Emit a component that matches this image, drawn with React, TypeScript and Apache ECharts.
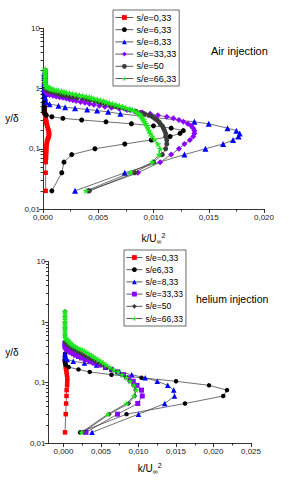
import React, { useEffect, useRef } from "react";
import * as echarts from "echarts";

type P = [number, number];

// ---------- Air injection (top) ----------
const airNames = ["s/e=0,33", "s/e=6,33", "s/e=8,33", "s/e=33,33", "s/e=50", "s/e=66,33"];

const airS033: P[] = [
  [0.00024, 0.02], [0.00024, 0.04], [0.00025, 0.06], [0.00027, 0.07], [0.00028, 0.08], [0.0003, 0.09],
  [0.0003, 0.1], [0.00031, 0.11], [0.00033, 0.12], [0.00036, 0.13], [0.0004, 0.14], [0.00046, 0.15],
  [0.00052, 0.16], [0.00055, 0.17], [0.00055, 0.18], [0.00053, 0.19], [0.0005, 0.2], [0.00044, 0.22],
  [0.00038, 0.24], [0.00033, 0.26], [0.0003, 0.28], [0.00027, 0.3], [0.00024, 0.32], [0.00022, 0.34],
  [0.0002, 0.36], [0.00018, 0.38], [0.00016, 0.4], [0.00015, 0.45], [0.00014, 0.5],
];

const airS633: P[] = [
  [0.0008, 0.02], [0.0017, 0.04], [0.0019, 0.06], [0.0026, 0.08], [0.0047, 0.1], [0.0074, 0.12],
  [0.0098, 0.14], [0.0115, 0.16], [0.0124, 0.18], [0.0127, 0.2], [0.0116, 0.22], [0.01, 0.24],
  [0.008, 0.26], [0.0057, 0.28], [0.0035, 0.3], [0.0018, 0.32], [0.0008, 0.34], [0.0003, 0.36],
  [0.0002, 0.38], [0.0001, 0.4], [0.0001, 0.42], [0.0001, 0.44], [0.0001, 0.46], [0.0001, 0.48],
  [0.0001, 0.5], [0.0001, 0.55], [0.0001, 0.6], [0.0001, 0.7], [0.0001, 0.8], [0.0001, 1.0],
  [0.0001, 1.2], [0.0001, 1.5],
];

const airS833: P[] = [
  [0.0029, 0.02], [0.0074, 0.04], [0.0128, 0.08], [0.0147, 0.1], [0.0163, 0.12], [0.0172, 0.14],
  [0.0177, 0.16], [0.0178, 0.18], [0.0175, 0.2], [0.0167, 0.22], [0.015, 0.26], [0.0137, 0.28],
  [0.007, 0.38], [0.0059, 0.41], [0.0049, 0.43], [0.004, 0.45], [0.0029, 0.47], [0.002, 0.49],
  [0.0014, 0.52], [0.0006, 0.55], [0.0003, 0.6], [0.0002, 0.7], [0.0002, 0.8], [0.0001, 0.9],
  [0.0001, 1.0], [0.0001, 1.2], [0.0001, 1.5], [0.0001, 1.8],
];

const airS3333: P[] = [
  [0.0041, 0.02], [0.0086, 0.04], [0.0106, 0.06], [0.0116, 0.08], [0.0123, 0.1], [0.0128, 0.12],
  [0.0133, 0.14], [0.0136, 0.16], [0.0137, 0.18], [0.0137, 0.2], [0.0136, 0.22], [0.0134, 0.24],
  [0.0131, 0.26], [0.0127, 0.28], [0.0123, 0.3], [0.0118, 0.32], [0.0112, 0.34], [0.0104, 0.36],
  [0.0097, 0.38], [0.009, 0.4], [0.0083, 0.42], [0.0076, 0.44], [0.0069, 0.46], [0.0062, 0.48],
  [0.0056, 0.5], [0.0051, 0.52], [0.0046, 0.54], [0.0042, 0.56], [0.0038, 0.58], [0.0034, 0.6],
  [0.003, 0.62], [0.0027, 0.64], [0.0024, 0.66], [0.0021, 0.68], [0.0018, 0.7], [0.0015, 0.72],
  [0.0012, 0.74], [0.0009, 0.76], [0.0006, 0.78], [0.0004, 0.8], [0.0003, 0.85], [0.0002, 0.9],
  [0.0002, 1.0], [0.0002, 1.2], [0.0002, 1.5], [0.0002, 1.8],
];

const airS50: P[] = [
  [0.0042, 0.02], [0.0083, 0.04], [0.01, 0.06], [0.0108, 0.08], [0.0111, 0.1], [0.0112, 0.12],
  [0.0112, 0.14], [0.0111, 0.16], [0.0111, 0.18], [0.011, 0.2], [0.0109, 0.22], [0.0108, 0.24],
  [0.0106, 0.26], [0.0105, 0.28], [0.0103, 0.3], [0.0101, 0.32], [0.0099, 0.34], [0.0096, 0.36],
  [0.0092, 0.38], [0.0088, 0.4], [0.0084, 0.42], [0.0079, 0.44], [0.0074, 0.46], [0.007, 0.48],
  [0.0066, 0.5], [0.0063, 0.52], [0.006, 0.54], [0.0056, 0.56], [0.0053, 0.58], [0.005, 0.6],
  [0.0047, 0.62], [0.0043, 0.64], [0.004, 0.66], [0.0036, 0.68], [0.0031, 0.7], [0.0027, 0.72],
  [0.0024, 0.74], [0.0021, 0.76], [0.0018, 0.78], [0.0016, 0.8], [0.0014, 0.82], [0.0012, 0.84],
  [0.001, 0.86], [0.0008, 0.88], [0.0006, 0.9], [0.0005, 0.92], [0.0004, 0.94], [0.0003, 0.96],
  [0.0002, 1.0], [0.0002, 1.1], [0.0002, 1.2], [0.0002, 1.3], [0.0002, 1.4], [0.0002, 1.5],
  [0.0002, 1.6], [0.0002, 1.7], [0.0002, 1.8], [0.0002, 1.9], [0.0002, 2.0],
];

const airS6633: P[] = [
  [0.0039, 0.02], [0.0079, 0.04], [0.0099, 0.06], [0.0105, 0.08], [0.0106, 0.1], [0.0104, 0.12],
  [0.0101, 0.14], [0.0099, 0.16], [0.0097, 0.18], [0.0096, 0.2], [0.0095, 0.22], [0.0094, 0.24],
  [0.0093, 0.26], [0.0092, 0.28], [0.0091, 0.3], [0.009, 0.32], [0.0089, 0.34], [0.0088, 0.36],
  [0.0087, 0.38], [0.0085, 0.4], [0.0083, 0.42], [0.0081, 0.44], [0.0078, 0.46], [0.0075, 0.48],
  [0.0072, 0.5], [0.0069, 0.52], [0.0066, 0.54], [0.0063, 0.56], [0.006, 0.58], [0.0057, 0.6],
  [0.0055, 0.62], [0.0052, 0.64], [0.0049, 0.66], [0.0046, 0.68], [0.0044, 0.7], [0.0042, 0.72],
  [0.0039, 0.74], [0.0036, 0.76], [0.0033, 0.78], [0.003, 0.8], [0.0027, 0.82], [0.0024, 0.84],
  [0.0021, 0.86], [0.0019, 0.88], [0.0017, 0.9], [0.0014, 0.92], [0.0012, 0.94], [0.001, 0.96],
  [0.0008, 0.98], [0.0007, 1.0], [0.0006, 1.02], [0.0005, 1.04], [0.0004, 1.06], [0.0003, 1.08],
  [0.0003, 1.1], [0.0002, 1.2], [0.0002, 1.3], [0.0002, 1.4], [0.0002, 1.5], [0.0002, 1.6],
  [0.0002, 1.7], [0.0002, 1.8], [0.0002, 1.9], [0.0002, 2.0], [0.0002, 2.1],
];

// ---------- Helium injection (bottom) ----------
const heliumNames = ["s/e=0,33", "s/e6,33", "s/e=8,33", "s/e=33,33", "s/e=50", "s/e=66,33"];

const heS033: P[] = [
  [0.0002, 0.015], [0.0003, 0.03], [0.00035, 0.045], [0.0004, 0.06], [0.00042, 0.075], [0.00048, 0.09],
  [0.0005, 0.105], [0.0005, 0.12], [0.00045, 0.135], [0.0004, 0.15], [0.00035, 0.165], [0.0003, 0.18],
  [0.0003, 0.195], [0.00025, 0.21], [0.0002, 0.225], [0.0002, 0.24],
];

const heS633: P[] = [
  [0.0022, 0.015], [0.0084, 0.03], [0.0162, 0.045], [0.0213, 0.06], [0.0218, 0.075], [0.0194, 0.09],
  [0.015, 0.105], [0.0104, 0.12], [0.0064, 0.135], [0.0035, 0.15], [0.002, 0.165], [0.0007, 0.18],
  [0.0003, 0.195], [0.0002, 0.21], [0.0002, 0.225], [0.0002, 0.24], [0.0002, 0.27], [0.0002, 0.3],
];

const heS833: P[] = [
  [0.0038, 0.015], [0.01, 0.03], [0.0135, 0.045], [0.0148, 0.06], [0.0147, 0.075], [0.0139, 0.09],
  [0.0125, 0.105], [0.0109, 0.12], [0.0091, 0.135], [0.0075, 0.15], [0.0065, 0.165], [0.0056, 0.18],
  [0.0044, 0.195], [0.0028, 0.21], [0.0013, 0.225], [0.0005, 0.24], [0.0002, 0.255], [0.0002, 0.27],
  [0.0002, 0.3],
];

const heS3333: P[] = [
  [0.003, 0.015], [0.0072, 0.03], [0.0099, 0.045], [0.0105, 0.06], [0.0104, 0.075], [0.0098, 0.09],
  [0.0093, 0.105], [0.0087, 0.12], [0.008, 0.135], [0.0072, 0.15], [0.0064, 0.165], [0.0056, 0.18],
  [0.0048, 0.195], [0.0041, 0.21], [0.0035, 0.225], [0.0029, 0.24], [0.0024, 0.255], [0.002, 0.27],
  [0.0016, 0.285], [0.0013, 0.3], [0.001, 0.315], [0.0008, 0.33], [0.0006, 0.345], [0.0004, 0.36],
  [0.0003, 0.375], [0.0002, 0.39], [0.0002, 0.42], [0.0002, 0.45],
];

const heS50: P[] = [
  [0.0026, 0.015], [0.0061, 0.03], [0.0087, 0.045], [0.0095, 0.06], [0.0096, 0.075], [0.0093, 0.09],
  [0.0088, 0.105], [0.0083, 0.12], [0.0077, 0.135], [0.0071, 0.15], [0.0064, 0.165], [0.0058, 0.18],
  [0.0052, 0.195], [0.0047, 0.21], [0.0042, 0.225], [0.0038, 0.24], [0.0034, 0.255], [0.003, 0.27],
  [0.0027, 0.285], [0.0024, 0.3], [0.0021, 0.315], [0.0018, 0.33], [0.0015, 0.345], [0.0013, 0.36],
  [0.0011, 0.375], [0.0009, 0.39], [0.0007, 0.405], [0.0005, 0.42], [0.0003, 0.45], [0.0002, 0.48],
  [0.0002, 0.6], [0.0002, 0.8], [0.0002, 1.0], [0.0002, 1.2], [0.0002, 1.5],
];

const heS6633: P[] = [
  [0.0024, 0.015], [0.0059, 0.03], [0.0084, 0.045], [0.0094, 0.06], [0.0097, 0.075], [0.0094, 0.09],
  [0.0089, 0.105], [0.0084, 0.12], [0.0078, 0.135], [0.0073, 0.15], [0.0067, 0.165], [0.0062, 0.18],
  [0.0057, 0.195], [0.0053, 0.21], [0.005, 0.225], [0.0046, 0.24], [0.0043, 0.255], [0.004, 0.27],
  [0.0037, 0.285], [0.0034, 0.3], [0.0031, 0.315], [0.0028, 0.33], [0.0025, 0.345], [0.0022, 0.36],
  [0.0019, 0.375], [0.0016, 0.39], [0.0014, 0.405], [0.0012, 0.42], [0.001, 0.435], [0.0009, 0.45],
  [0.0008, 0.465], [0.0007, 0.48], [0.0006, 0.495], [0.0005, 0.51], [0.0004, 0.525], [0.0003, 0.54],
  [0.0002, 0.555], [0.0002, 0.6], [0.0002, 0.65], [0.0002, 0.7], [0.0002, 0.75], [0.0002, 0.8],
  [0.0002, 0.85], [0.0002, 0.9], [0.0002, 0.95], [0.0002, 1.0], [0.0002, 1.1], [0.0002, 1.2],
  [0.0002, 1.3], [0.0002, 1.4], [0.0002, 1.5],
];

// ---------- ticks ----------
const yMajorTicks = [0.01, 0.1, 1, 10];
const yMinorTicks = [
  0.02, 0.03, 0.04, 0.05, 0.06, 0.07, 0.08, 0.09,
  0.2, 0.3, 0.4, 0.5, 0.6, 0.7, 0.8, 0.9,
  2, 3, 4, 5, 6, 7, 8, 9,
];
const airXMajor = [0, 0.005, 0.01, 0.015, 0.02];
const airXMinor = [0.0025, 0.0075, 0.0125, 0.0175];
const heXMajor = [0, 0.005, 0.01, 0.015, 0.02, 0.025];
const heXMinor = [0.0025, 0.0075, 0.0125, 0.0175, 0.0225];

const FONT = "'Liberation Sans', Arial, sans-serif";
const STAR = "path://M50,0 L61,35 L98,35 L68,57 L79,91 L50,70 L21,91 L32,57 L2,35 L39,35 Z";

const COLORS = ["#ff0000", "#000000", "#0000ff", "#8b00ff", "#3c3c3c", "#1ee81e"];

const yFmt = (v: number) => String(parseFloat(v.toPrecision(6))).replace(".", ",");
const xFmt = (v: number) => (Math.abs(v) < 1e-12 ? 0 : v).toFixed(3).replace(".", ",");

interface Cfg {
  names: string[];
  data: P[][];
  symbols: string[];
  sizes: number[];
  grid: { left: number; right: number; top: number; bottom: number };
  xMin: number;
  xMax: number;
  xMajor: number[];
  xMinor: number[];
  xNameGap: number;
  yNameGap: number;
  legend: { left: number; top: number; fontSize: number; itemWidth: number };
  label: { text: string; left: number; top: number; fontSize: number };
}

function buildOption(c: Cfg) {
  const axisLineStyle = { color: "#000", width: 0.8 };
  return {
    animation: false,
    grid: { ...c.grid, containLabel: false },
    legend: {
      orient: "vertical",
      left: c.legend.left,
      top: c.legend.top,
      itemWidth: c.legend.itemWidth,
      itemHeight: 6,
      itemGap: 3.2,
      padding: [3, 3, 3, 2],
      borderColor: "#444",
      borderWidth: 0.8,
      selectedMode: false,
      lineStyle: { color: "#333", width: 0.8 },
      textStyle: { fontSize: c.legend.fontSize, color: "#000", fontFamily: FONT, padding: [0, 0, 0, -2] },
      data: c.names,
    },
    graphic: [
      {
        type: "text",
        left: c.label.left,
        top: c.label.top,
        style: { text: c.label.text, fontSize: c.label.fontSize, fill: "#000", fontFamily: FONT },
      },
    ],
    xAxis: [
      {
        type: "value",
        position: "bottom",
        min: c.xMin,
        max: c.xMax,
        splitLine: { show: false },
        axisLine: { show: true, onZero: false, lineStyle: axisLineStyle },
        axisTick: { show: true, length: 4, lineStyle: axisLineStyle, customValues: c.xMajor },
        axisLabel: {
          fontSize: 8,
          color: "#222",
          fontFamily: FONT,
          margin: 4,
          formatter: xFmt,
          customValues: c.xMajor,
        },
        name: "k/U{s|∞}{p|2}",
        nameLocation: "middle",
        nameGap: c.xNameGap,
        nameTextStyle: {
          fontSize: 10,
          color: "#000",
          fontFamily: FONT,
          rich: {
            s: { fontSize: 7, fontFamily: FONT, color: "#000", padding: [6, 0, 0, 0] },
            p: { fontSize: 7, fontFamily: FONT, color: "#000", padding: [0, 0, 6, 0] },
          },
        },
      },
      {
        type: "value",
        position: "bottom",
        min: c.xMin,
        max: c.xMax,
        splitLine: { show: false },
        axisLine: { show: false, onZero: false },
        axisLabel: { show: false },
        axisTick: { show: true, length: 2.5, lineStyle: axisLineStyle, customValues: c.xMinor },
      },
    ],
    yAxis: [
      {
        type: "log",
        logBase: 10,
        position: "left",
        min: 0.01,
        max: 10,
        splitLine: { show: false },
        axisLine: { show: true, onZero: false, lineStyle: axisLineStyle },
        axisTick: { show: true, length: 4, lineStyle: axisLineStyle, customValues: yMajorTicks },
        axisLabel: {
          fontSize: 8,
          color: "#222",
          fontFamily: FONT,
          margin: 3,
          formatter: yFmt,
          customValues: yMajorTicks,
        },
        name: "y/δ",
        nameLocation: "middle",
        nameRotate: 0,
        nameGap: c.yNameGap,
        nameTextStyle: { fontSize: 10, color: "#000", fontFamily: FONT },
      },
      {
        type: "log",
        logBase: 10,
        position: "left",
        min: 0.01,
        max: 10,
        splitLine: { show: false },
        axisLine: { show: false, onZero: false },
        axisLabel: { show: false },
        axisTick: { show: true, length: 2.5, lineStyle: axisLineStyle, customValues: yMinorTicks },
      },
    ],
    series: c.data.map((d, i) => ({
      type: "line",
      name: c.names[i],
      data: d,
      xAxisIndex: 0,
      yAxisIndex: 0,
      symbol: c.symbols[i],
      symbolSize: c.sizes[i],
      showSymbol: true,
      showAllSymbol: true,
      itemStyle: { color: COLORS[i], borderWidth: 0 },
      lineStyle: { color: "#333", width: 0.7 },
      z: 2 + i,
    })),
  };
}

const airCfg: Cfg = {
  names: airNames,
  data: [airS033, airS633, airS833, airS3333, airS50, airS6633],
  symbols: ["rect", "circle", "triangle", "diamond", "circle", STAR],
  sizes: [4.5, 5, 6, 6, 5, 7],
  grid: { left: 43, right: 25, top: 28.3, bottom: 39.3 },
  xMin: 0,
  xMax: 0.02,
  xMajor: airXMajor,
  xMinor: airXMinor,
  xNameGap: 23,
  yNameGap: 23,
  legend: { left: 113, top: 10, fontSize: 9, itemWidth: 18 },
  label: { text: "Air injection", left: 211, top: 45, fontSize: 11 },
};

const heCfg: Cfg = {
  names: heliumNames,
  data: [heS033, heS633, heS833, heS3333, heS50, heS6633],
  symbols: ["rect", "circle", "triangle", "rect", "diamond", STAR],
  sizes: [4.5, 4.5, 5.5, 5, 5, 6.5],
  grid: { left: 48.5, right: 38, top: 21.7, bottom: 36.7 },
  xMin: -0.002,
  xMax: 0.025,
  xMajor: heXMajor,
  xMinor: heXMinor,
  xNameGap: 19,
  yNameGap: 30,
  legend: { left: 124, top: 10, fontSize: 8.5, itemWidth: 16 },
  label: { text: "helium injection", left: 196, top: 53, fontSize: 10.5 },
};

function Chart({ cfg, style }: { cfg: Cfg; style: React.CSSProperties }) {
  const ref = useRef<HTMLDivElement>(null);
  useEffect(() => {
    if (!ref.current) return;
    const chart = echarts.init(ref.current, undefined, { renderer: "svg" });
    chart.setOption(buildOption(cfg) as any);
    return () => chart.dispose();
  }, [cfg]);
  return <div ref={ref} style={style} />;
}

export default function App() {
  return (
    <div style={{ position: "absolute", left: 0, top: 0, width: 289, height: 480, background: "#fff" }}>
      <Chart cfg={airCfg} style={{ position: "absolute", left: 0, top: 0, width: 289, height: 250 }} />
      <Chart cfg={heCfg} style={{ position: "absolute", left: 0, top: 240, width: 289, height: 240 }} />
    </div>
  );
}
